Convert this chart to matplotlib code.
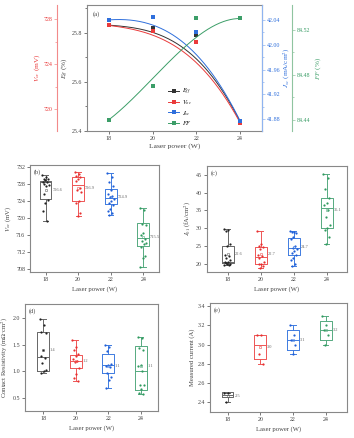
import numpy as np
import matplotlib
matplotlib.use("Agg")
import matplotlib.pyplot as plt
from matplotlib.lines import Line2D

plt.rcParams['font.family'] = ['Liberation Serif', 'DejaVu Serif']
plt.rcParams['mathtext.fontset'] = 'stix'

# ---------------- data: panel (a) ----------------
power = [18, 20, 22, 24]
eff = [25.831, 25.818, 25.790, 25.438]
voc = [727.46, 726.96, 726.0, 718.78]
jsc = [42.040, 42.045, 42.020, 41.877]
ff = [84.44, 84.47, 84.53, 84.53]

# ---------------- data: box panels ----------------
categories = ['18', '20', '22', '24']

# (b) Voc (mV)
voc_q1 = [724.3, 724.0, 723.2, 713.3]
voc_med = [728.3, 727.7, 724.7, 715.1]
voc_q3 = [728.6, 729.5, 726.7, 718.7]
voc_lo = [719.2, 720.5, 720.6, 708.4]
voc_hi = [730.0, 730.7, 730.4, 722.2]
voc_mean = [726.6, 726.9, 724.9, 715.5]
voc_pts = [
    [730.0, 729.6, 729.2, 729.0, 728.8, 728.5, 728.3, 728.0, 727.8, 727.5, 725.5, 724.2, 723.5, 721.5, 719.2],
    [730.7, 730.2, 729.8, 729.5, 729.2, 728.6, 727.0, 726.5, 726.0, 724.0, 723.5, 721.0, 720.5],
    [730.4, 729.5, 728.5, 727.5, 726.5, 725.5, 725.0, 724.8, 724.5, 724.0, 723.5, 723.0, 722.0, 721.5, 721.0, 720.6],
    [722.2, 721.8, 718.5, 718.2, 716.3, 716.0, 715.0, 714.5, 714.0, 713.7, 713.0, 711.0, 710.5, 708.4],
]

# (c) J01 (fA/cm2)
j01_q1 = [20.1, 19.8, 22.5, 30.1]
j01_med = [20.5, 21.8, 24.3, 35.7]
j01_q3 = [25.0, 24.6, 27.1, 38.6]
j01_lo = [19.6, 18.7, 19.3, 25.5]
j01_hi = [29.7, 29.3, 29.2, 45.2]
j01_mean = [22.6, 22.7, 24.7, 35.1]
j01_pts = [
    [29.8, 29.5, 29.2, 25.5, 25.0, 22.5, 22.0, 21.5, 21.0, 20.5, 20.3, 20.0, 19.8, 19.7, 19.6, 20.2],
    [29.3, 25.5, 25.0, 24.8, 24.0, 22.5, 22.0, 21.5, 20.5, 20.0, 19.8, 19.2, 18.7],
    [29.2, 29.0, 28.8, 28.5, 27.5, 26.8, 25.0, 24.5, 24.0, 23.5, 23.0, 22.5, 21.5, 21.0, 20.0, 19.3],
    [45.2, 44.0, 41.0, 38.5, 37.0, 36.5, 35.0, 33.0, 31.0, 30.0, 29.5, 27.5, 25.5],
]

# (d) contact resistivity
rc_q1 = [1.006, 1.056, 0.975, 0.656]
rc_med = [1.27, 1.20, 1.11, 1.00]
rc_q3 = [1.744, 1.31, 1.33, 1.47]
rc_lo = [0.975, 0.82, 0.69, 0.58]
rc_hi = [1.975, 1.58, 1.50, 1.64]
rc_mean = [1.4, 1.2, 1.1, 1.1]
rc_pts = [
    [1.975, 1.87, 1.74, 1.72, 1.40, 1.28, 1.25, 1.15, 1.02, 1.00, 0.975],
    [1.58, 1.45, 1.40, 1.32, 1.28, 1.22, 1.20, 1.18, 1.06, 0.95, 0.88, 0.82],
    [1.50, 1.45, 1.38, 1.13, 1.12, 1.10, 1.08, 0.97, 0.90, 0.83, 0.69],
    [1.64, 1.62, 1.44, 1.40, 1.12, 1.10, 1.00, 0.75, 0.74, 0.66, 0.60, 0.58],
]

# (e) measured current
cur_q1 = [2.452, 2.846, 2.947, 3.047]
cur_med = [2.48, 3.00, 3.047, 3.147]
cur_q3 = [2.504, 3.10, 3.147, 3.248]
cur_lo = [2.40, 2.80, 2.90, 3.00]
cur_hi = [2.50, 3.10, 3.20, 3.30]
cur_mean = [2.47, 2.97, 3.05, 3.15]
cur_pts = [
    [2.50, 2.50, 2.40],
    [3.10, 3.10, 2.90, 2.80],
    [3.20, 3.10, 3.05, 3.00, 2.90],
    [3.30, 3.20, 3.15, 3.10, 3.00],
]
cur_labels = ['2.5', '3.0', '3.1', '3.2']

# ---------------- style ----------------
C_BLK = '#333333'
C_RED = '#ea3b3b'
C_BLU = '#2f6fdc'
C_GRN = '#3c9e68'
BOX_COLS = ['#666666', '#ee5555', '#3f7be0', '#55aa80']
PT_COLS = ['#222222', '#e83030', '#1f5fd8', '#2f9a5e']
FRAME = '#888888'
TXT = '#444444'
TICK_FS = 4.3
LAB_FS = 4.8

fig = plt.figure(figsize=(3.54, 4.38), dpi=100)


def bezier(xs, ys, n=200):
    t = np.linspace(0, 1, n)
    xs = np.asarray(xs, float)
    ys = np.asarray(ys, float)
    b = [(1 - t) ** 3, 3 * (1 - t) ** 2 * t, 3 * (1 - t) * t ** 2, t ** 3]
    return sum(bi * xi for bi, xi in zip(b, xs)), sum(bi * yi for bi, yi in zip(b, ys))


def style_tick(axis_obj, color):
    axis_obj.set_tick_params(which='both', direction='out', colors=color, labelcolor=color,
                             labelsize=TICK_FS, width=0.5, pad=1.5)
    axis_obj.set_tick_params(which='major', length=2)
    axis_obj.set_tick_params(which='minor', length=1.2)


# ---------------- panel (a) ----------------
ax = fig.add_axes([0.2458, 0.7009, 0.4944, 0.2877])
ax.set_xlim(17, 25)
ax.set_ylim(25.4, 25.913)
ax.set_xticks(power)
ax.set_yticks([25.4, 25.6, 25.8])
ax.set_yticks(np.arange(25.4, 25.91, 0.1), minor=True)
for s in ax.spines.values():
    s.set_color(FRAME)
    s.set_linewidth(0.8)
style_tick(ax.xaxis, TXT)
style_tick(ax.yaxis, TXT)
ax.set_ylabel('$E_{ff}$ (%)', fontsize=5.2, color=TXT, labelpad=1)
ax.set_xlabel('Laser power (W)', fontsize=5.4, color=TXT, labelpad=2)
ax.text(0.03, 0.95, '(a)', transform=ax.transAxes, fontsize=4.8, color=TXT, va='top')

bx, by = bezier(power, eff)
ax.plot(bx, by, color=C_BLK, lw=0.7)
ax.plot(power, eff, 's', color=C_BLK, ms=2.3, mew=0)

# Voc axis (left offset)
axv = ax.twinx()
axv.set_ylim(718.04, 729.28)
axv.yaxis.set_ticks_position('left')
axv.yaxis.set_label_position('left')
axv.spines['left'].set_position(('axes', -0.171))
axv.spines['left'].set_visible(True)
axv.spines['left'].set_color('#f28a8a')
axv.spines['left'].set_linewidth(0.8)
for k in ['right', 'top', 'bottom']:
    axv.spines[k].set_visible(False)
axv.set_yticks([720, 724, 728])
axv.set_yticks([722, 726], minor=True)
style_tick(axv.yaxis, C_RED)
axv.yaxis.set_tick_params(which='both', colors='#f28a8a', labelcolor=C_RED)
axv.set_ylabel('$V_{oc}$ (mV)', fontsize=5.2, color=C_RED, labelpad=1)
bx, by = bezier(power, voc)
axv.plot(bx, by, color=C_RED, lw=0.7)
axv.plot(power, voc, 's', color=C_RED, ms=2.3, mew=0)

# Jsc axis (right)
axj = ax.twinx()
axj.set_ylim(41.861, 42.064)
for k in ['left', 'top', 'bottom']:
    axj.spines[k].set_visible(False)
axj.spines['right'].set_color('#8fb4f0')
axj.spines['right'].set_linewidth(0.8)
axj.set_yticks([41.88, 41.92, 41.96, 42.00, 42.04])
axj.set_yticks([41.90, 41.94, 41.98, 42.02], minor=True)
axj.set_yticklabels(['41.88', '41.92', '41.96', '42.00', '42.04'])
style_tick(axj.yaxis, C_BLU)
axj.yaxis.set_tick_params(which='both', colors='#8fb4f0', labelcolor=C_BLU)
axj.set_ylabel('$J_{sc}$ (mA/cm$^2$)', fontsize=5.2, color=C_BLU, labelpad=1)
bx, by = bezier(power, jsc)
axj.plot(bx, by, color=C_BLU, lw=0.7)
axj.plot(power, jsc, 's', color=C_BLU, ms=2.3, mew=0)

# FF axis (right offset)
axf = ax.twinx()
axf.set_ylim(84.430, 84.542)
axf.spines['right'].set_position(('axes', 1.171))
for k in ['left', 'top', 'bottom']:
    axf.spines[k].set_visible(False)
axf.spines['right'].set_color('#8fc4a0')
axf.spines['right'].set_linewidth(0.8)
axf.set_yticks([84.44, 84.48, 84.52])
axf.set_yticks([84.46, 84.50], minor=True)
style_tick(axf.yaxis, C_GRN)
axf.yaxis.set_tick_params(which='both', colors='#8fc4a0', labelcolor=C_GRN)
axf.set_ylabel('$FF$ (%)', fontsize=5.2, color=C_GRN, labelpad=2)
bx, by = bezier(power, ff)
axf.plot(bx, by, color=C_GRN, lw=0.7)
axf.plot(power, ff, 's', color=C_GRN, ms=2.3, mew=0)

handles = [Line2D([], [], color=c, lw=0.7, marker='s', ms=2.3, mew=0)
           for c in [C_BLK, C_RED, C_BLU, C_GRN]]
axf.legend(handles, ['$E_{ff}$', '$V_{oc}$', '$J_{sc}$', '$FF$'], loc='upper left',
           bbox_to_anchor=(0.44, 0.38), frameon=False, fontsize=4.6, handlelength=1.8,
           handletextpad=0.4, labelspacing=0.2, borderpad=0.1)


# ---------------- box panels ----------------
def golden_offsets(n):
    return np.array([((i * 0.618034) % 1.0 - 0.5) * 0.2 for i in range(n)])


rect_xlim = {'(b)': (0.52, 4.48), '(c)': (0.37, 4.6), '(d)': (0.44, 4.53), '(e)': (0.46, 4.65)}


def box_panel(rect, q1, med, q3, lo, hi, mean, pts, labels, ylim, yticks, ylabel, tag,
              yfmt=None):
    a = fig.add_axes(rect)
    for i in range(4):
        st = [dict(q1=q1[i], med=med[i], q3=q3[i], whislo=lo[i], whishi=hi[i],
                   mean=mean[i], fliers=[])]
        c = BOX_COLS[i]
        a.bxp(st, positions=[i + 1], widths=0.36, capwidths=0.16, showfliers=False,
              boxprops=dict(color=c, lw=0.7),
              whiskerprops=dict(color=c, lw=0.7),
              capprops=dict(color=c, lw=0.7),
              medianprops=dict(color=c, lw=0.7), manage_ticks=False)
        p = np.asarray(pts[i])
        a.plot(i + 1 + golden_offsets(len(p)), p, 'o', color=PT_COLS[i], ms=1.6, mew=0,
               zorder=4)
        a.plot([i + 1], [mean[i]], 's', mfc='none', mec=c, ms=1.6, mew=0.4, zorder=4)
        a.text(i + 1 + 0.21, mean[i], labels[i], fontsize=3.2, color='#666666',
               va='center', ha='left')
    a.set_xlim(rect_xlim[tag])
    a.set_ylim(ylim)
    a.set_xticks([1, 2, 3, 4])
    a.set_xticklabels(categories)
    a.set_yticks(yticks)
    if yfmt:
        a.set_yticklabels([yfmt.format(v) for v in yticks])
    for s in a.spines.values():
        s.set_color(FRAME)
        s.set_linewidth(0.8)
    style_tick(a.xaxis, TXT)
    style_tick(a.yaxis, TXT)
    a.set_xlabel('Laser power (W)', fontsize=LAB_FS, color=TXT, labelpad=3)
    a.set_ylabel(ylabel, fontsize=LAB_FS, color=TXT, labelpad=2)
    a.text(0.03, 0.96, tag, transform=a.transAxes, fontsize=4.6, color=TXT, va='top')
    return a


box_panel([0.0847, 0.379, 0.3643, 0.2443], voc_q1, voc_med, voc_q3, voc_lo, voc_hi,
          voc_mean, voc_pts, [f'{v:.1f}' for v in voc_mean], (707.2, 732.4),
          [708, 712, 716, 720, 724, 728, 732], '$V_{oc}$ (mV)', '(b)')
box_panel([0.584, 0.3797, 0.395, 0.2413], j01_q1, j01_med, j01_q3, j01_lo, j01_hi,
          j01_mean, j01_pts, [f'{v:.1f}' for v in j01_mean], (17.7, 47.5),
          [20, 25, 30, 35, 40, 45], '$J_{01}$ (fA/cm$^2$)', '(c)')
box_panel([0.0706, 0.0623, 0.3757, 0.2437], rc_q1, rc_med, rc_q3, rc_lo, rc_hi,
          rc_mean, rc_pts, [f'{v:.1f}' for v in rc_mean], (0.26, 2.26),
          [0.5, 1.0, 1.5, 2.0], 'Contact Resistivity (m$\\Omega$·cm$^2$)', '(d)', yfmt='{:.1f}')
box_panel([0.593, 0.06, 0.387, 0.2489], cur_q1, cur_med, cur_q3, cur_lo, cur_hi,
          cur_mean, cur_pts, cur_labels, (2.303, 3.435),
          [2.4, 2.6, 2.8, 3.0, 3.2, 3.4], 'Measured current (A)', '(e)', yfmt='{:.1f}')

fig.savefig('out.png', dpi=100)
